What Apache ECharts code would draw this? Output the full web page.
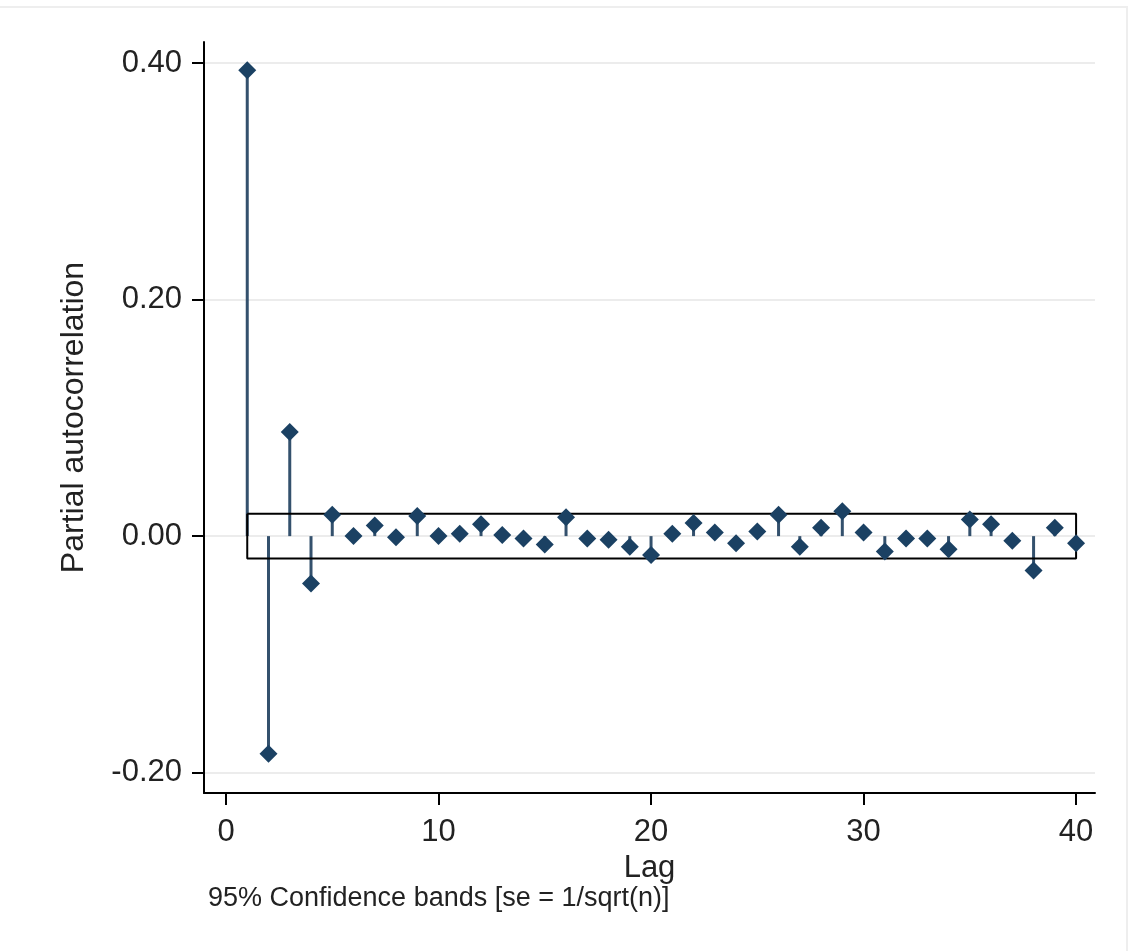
<!DOCTYPE html>
<html>
<head>
<meta charset="utf-8">
<script src="https://cdn.jsdelivr.net/npm/echarts@6/dist/echarts.min.js"></script>
<style>html,body{margin:0;padding:0;background:#fff}#c{width:1132px;height:951px}</style>
</head>
<body>
<div id="c"></div>
<script>
const lags = [1,2,3,4,5,6,7,8,9,10,11,12,13,14,15,16,17,18,19,20,21,22,23,24,25,26,27,28,29,30,31,32,33,34,35,36,37,38,39,40];
const pac = [0.394,-0.184,0.088,-0.040,0.018,0.000,0.009,-0.001,0.017,0.000,0.002,0.010,0.001,-0.002,-0.007,0.016,-0.002,-0.003,-0.009,-0.016,0.002,0.011,0.003,-0.006,0.004,0.018,-0.009,0.007,0.021,0.003,-0.013,-0.002,-0.002,-0.011,0.014,0.010,-0.004,-0.029,0.007,-0.006];
const bandHalf = 0.019;
const bandLags = [1, 40];
const xTicks = [0,10,20,30,40];
const yTicks = [-0.2,0,0.2,0.4];
const yTickLabels = ['-0.20','0.00','0.20','0.40'];

const font = 'Liberation Sans, Arial, sans-serif';
const navy = '#1b4163';
const bandPoly = [
  [bandLags[0], bandHalf],[bandLags[1], bandHalf],[bandLags[1], -bandHalf],[bandLags[0], -bandHalf],[bandLags[0], bandHalf]
];

const chart = echarts.init(document.getElementById('c'));
chart.setOption({
  animation: false,
  backgroundColor: '#fff',
  grid: {left: 204, top: 42, right: 37, bottom: 158},
  xAxis: {
    type: 'value', min: -1.035, max: 40.89,
    name: 'Lag', nameLocation: 'middle', nameGap: 50,
    nameTextStyle: {fontFamily: font, fontSize: 31, color: '#222'},
    axisLine: {show: true, onZero: false, lineStyle: {color: '#000', width: 2}},
    axisTick: {show: true, length: 12, customValues: xTicks, lineStyle: {color: '#000', width: 2}},
    axisLabel: {customValues: xTicks, margin: 24, fontFamily: font, fontSize: 31, color: '#222'},
    splitLine: {show: false}
  },
  yAxis: {
    type: 'value', min: -0.2172, max: 0.4178,
    name: 'Partial autocorrelation', nameLocation: 'middle', nameGap: 114,
    nameTextStyle: {fontFamily: font, fontSize: 32, color: '#222'},
    axisLine: {show: true, onZero: false, lineStyle: {color: '#000', width: 2}},
    axisTick: {show: true, length: 12, customValues: yTicks, lineStyle: {color: '#000', width: 2}},
    axisLabel: {customValues: yTicks, margin: 22, fontFamily: font, fontSize: 31, color: '#222',
      formatter: v => yTickLabels[yTicks.findIndex(t => Math.abs(t - v) < 1e-9)] ?? ''},
    splitLine: {show: false}
  },
  series: [
    {
      type: 'line', data: [], silent: true, z: 0,
      markLine: {silent: true, symbol: 'none', label: {show: false}, z: 0,
        lineStyle: {color: '#ececec', width: 2, type: 'solid'},
        data: yTicks.map(v => ({yAxis: v}))}
    },
    {
      type: 'bar', data: lags.map((l, i) => [l, pac[i]]), barWidth: 3,
      itemStyle: {color: '#34516d'}, silent: true, z: 2
    },
    {
      type: 'line', data: bandPoly, showSymbol: false, symbol: 'none',
      lineStyle: {color: '#000', width: 2}, silent: true, z: 3
    },
    {
      type: 'scatter', data: lags.map((l, i) => [l, pac[i]]), symbol: 'diamond', symbolSize: 18,
      itemStyle: {color: navy, opacity: 1}, z: 5
    }
  ],
  graphic: [
    {type: 'rect', shape: {x: -2, y: 7, width: 1129, height: 960}, style: {fill: 'none', stroke: '#eeeeee', lineWidth: 2}, silent: true, z: -1},
    {type: 'text', left: 208, top: 885, style: {text: '95% Confidence bands [se = 1/sqrt(n)]', font: '27px ' + font, fill: '#222'}}
  ]
});
</script>
</body>
</html>
